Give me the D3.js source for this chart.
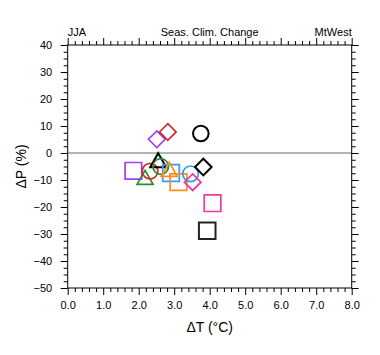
<!DOCTYPE html>
<html><head><meta charset="utf-8">
<script src="https://cdn.jsdelivr.net/npm/d3@7"></script>
<style>body{margin:0;background:#fff}svg{display:block}text{font-family:"Liberation Sans",Arial,Helvetica,sans-serif}</style>
</head><body><svg id="c" width="380" height="355"></svg>
<script>
// Data (ΔT in °C, ΔP in %)
const models = ["m1","m2","m3","m4","m5","m6","m7","m8","m9","m10","m11","m12","m13","m14","m15","m16"];
const dT = [1.85, 2.18, 2.32, 2.51, 2.55, 2.62, 2.82, 2.91, 2.86, 3.12, 3.46, 3.52, 3.75, 3.82, 4.08, 3.93];
const dP = [-6.6, -9.6, -6.7, 5.1, -3.2, -5.0, 7.8, -7.4, -6.6, -10.8, -7.7, -10.8, 7.2, -5.2, -18.6, -28.8];
const markerShape = ["square","triangle","circle","diamond","triangle","circle","diamond","square","triangle","square","circle","diamond","circle","diamond","square","square"];
const markerColor = ["#a040f0","#2a8c2a","#d02c2c","#a040f0","#000000","#2a8c2a","#c8302a","#3399ff","#ff8c1a","#ff8c1a","#3399ff","#f0389a","#000000","#000000","#f0389a","#222222"];
const xTicks = [0,1,2,3,4,5,6,7,8];
const yTicks = [40,30,20,10,0,-10,-20,-30,-40,-50];
const titleLeft = "JJA", titleCenter = "Seas. Clim. Change", titleRight = "MtWest";

const svg = d3.select("#c");
const L = 67.7, R = 351.7, T = 45, B = 288;
const x = d3.scaleLinear().domain([0,8]).range([L,R]);
const y = d3.scaleLinear().domain([-50,40]).range([B,T]);

const xMinor = d3.range(0, 8.0001, 0.2).filter(v => Math.abs(v - Math.round(v)) > 1e-6);
const yMinor = d3.range(-50, 40.0001, 2.5).filter(v => Math.abs(v/10 - Math.round(v/10)) > 1e-6);

function styleAxis(g){ g.select(".domain").remove(); g.selectAll("line").attr("stroke","#000").attr("stroke-width",1); g.selectAll("text").attr("font-size",11).attr("fill","#000"); }

// zero line
svg.append("line").attr("x1",L).attr("x2",R).attr("y1",y(0)).attr("y2",y(0))
  .attr("stroke","#b4b4b4").attr("stroke-width",2);

// bottom
svg.append("g").attr("transform",`translate(0,${B})`)
  .call(d3.axisBottom(x).tickValues(xTicks).tickFormat(d3.format(".1f")).tickSize(7).tickSizeOuter(0).tickPadding(6)).call(styleAxis);
svg.append("g").attr("transform",`translate(0,${B})`)
  .call(d3.axisBottom(x).tickValues(xMinor).tickFormat("").tickSize(4).tickSizeOuter(0)).call(styleAxis);
// top
svg.append("g").attr("transform",`translate(0,${T})`)
  .call(d3.axisTop(x).tickValues(xTicks).tickFormat("").tickSize(7).tickSizeOuter(0)).call(styleAxis);
svg.append("g").attr("transform",`translate(0,${T})`)
  .call(d3.axisTop(x).tickValues(xMinor).tickFormat("").tickSize(4).tickSizeOuter(0)).call(styleAxis);
// left
svg.append("g").attr("transform",`translate(${L},0)`)
  .call(d3.axisLeft(y).tickValues(yTicks).tickFormat(d3.format("d")).tickSize(7).tickSizeOuter(0).tickPadding(8.5)).call(styleAxis);
svg.append("g").attr("transform",`translate(${L},0)`)
  .call(d3.axisLeft(y).tickValues(yMinor).tickFormat("").tickSize(4).tickSizeOuter(0)).call(styleAxis);
// right
svg.append("g").attr("transform",`translate(${R},0)`)
  .call(d3.axisRight(y).tickValues(yTicks).tickFormat("").tickSize(7).tickSizeOuter(0)).call(styleAxis);
svg.append("g").attr("transform",`translate(${R},0)`)
  .call(d3.axisRight(y).tickValues(yMinor).tickFormat("").tickSize(4).tickSizeOuter(0)).call(styleAxis);

// frame
svg.append("rect").attr("x",L).attr("y",T).attr("width",R-L).attr("height",B-T)
  .attr("fill","none").attr("stroke","#000").attr("stroke-width",1);

// markers
function shapePath(s){
  const h = 8.3;
  if (s === "square") return `M${-h},${-h}H${h}V${h}H${-h}Z`;
  if (s === "diamond") return `M0,${-h}L${h},0L0,${h}L${-h},0Z`;
  if (s === "triangle") return `M0,${-8.5}L${8},${5.5}L${-8},${5.5}Z`;
  return null;
}
const pts = models.map((m,i)=>({x:dT[i], y:dP[i], s:markerShape[i], c:markerColor[i]}));
const mg = svg.append("g");
pts.forEach(p=>{
  if (p.s === "circle") {
    mg.append("circle").attr("cx",x(p.x)).attr("cy",y(p.y)).attr("r",7.8)
      .attr("fill","none").attr("stroke",p.c).attr("stroke-width",p.c==="#000000"?2:1.7);
  } else {
    mg.append("path").attr("d",shapePath(p.s)).attr("transform",`translate(${x(p.x)},${y(p.y)})`)
      .attr("fill","none").attr("stroke",p.c).attr("stroke-width",p.c==="#000000"||p.c==="#222222"?2:1.7);
  }
});

// titles
svg.append("text").attr("x",L).attr("y",36).attr("font-size",11).text(titleLeft);
svg.append("text").attr("x",(L+R)/2).attr("y",36).attr("font-size",11).attr("text-anchor","middle").text(titleCenter);
svg.append("text").attr("x",R).attr("y",36).attr("font-size",11).attr("text-anchor","end").text(titleRight);

svg.append("text").attr("x",(L+R)/2).attr("y",332).attr("font-size",14).attr("text-anchor","middle").text("ΔT (°C)");
svg.append("text").attr("transform",`translate(26,${(T+B)/2}) rotate(-90)`).attr("font-size",14).attr("text-anchor","middle").text("ΔP (%)");
</script></body></html>
